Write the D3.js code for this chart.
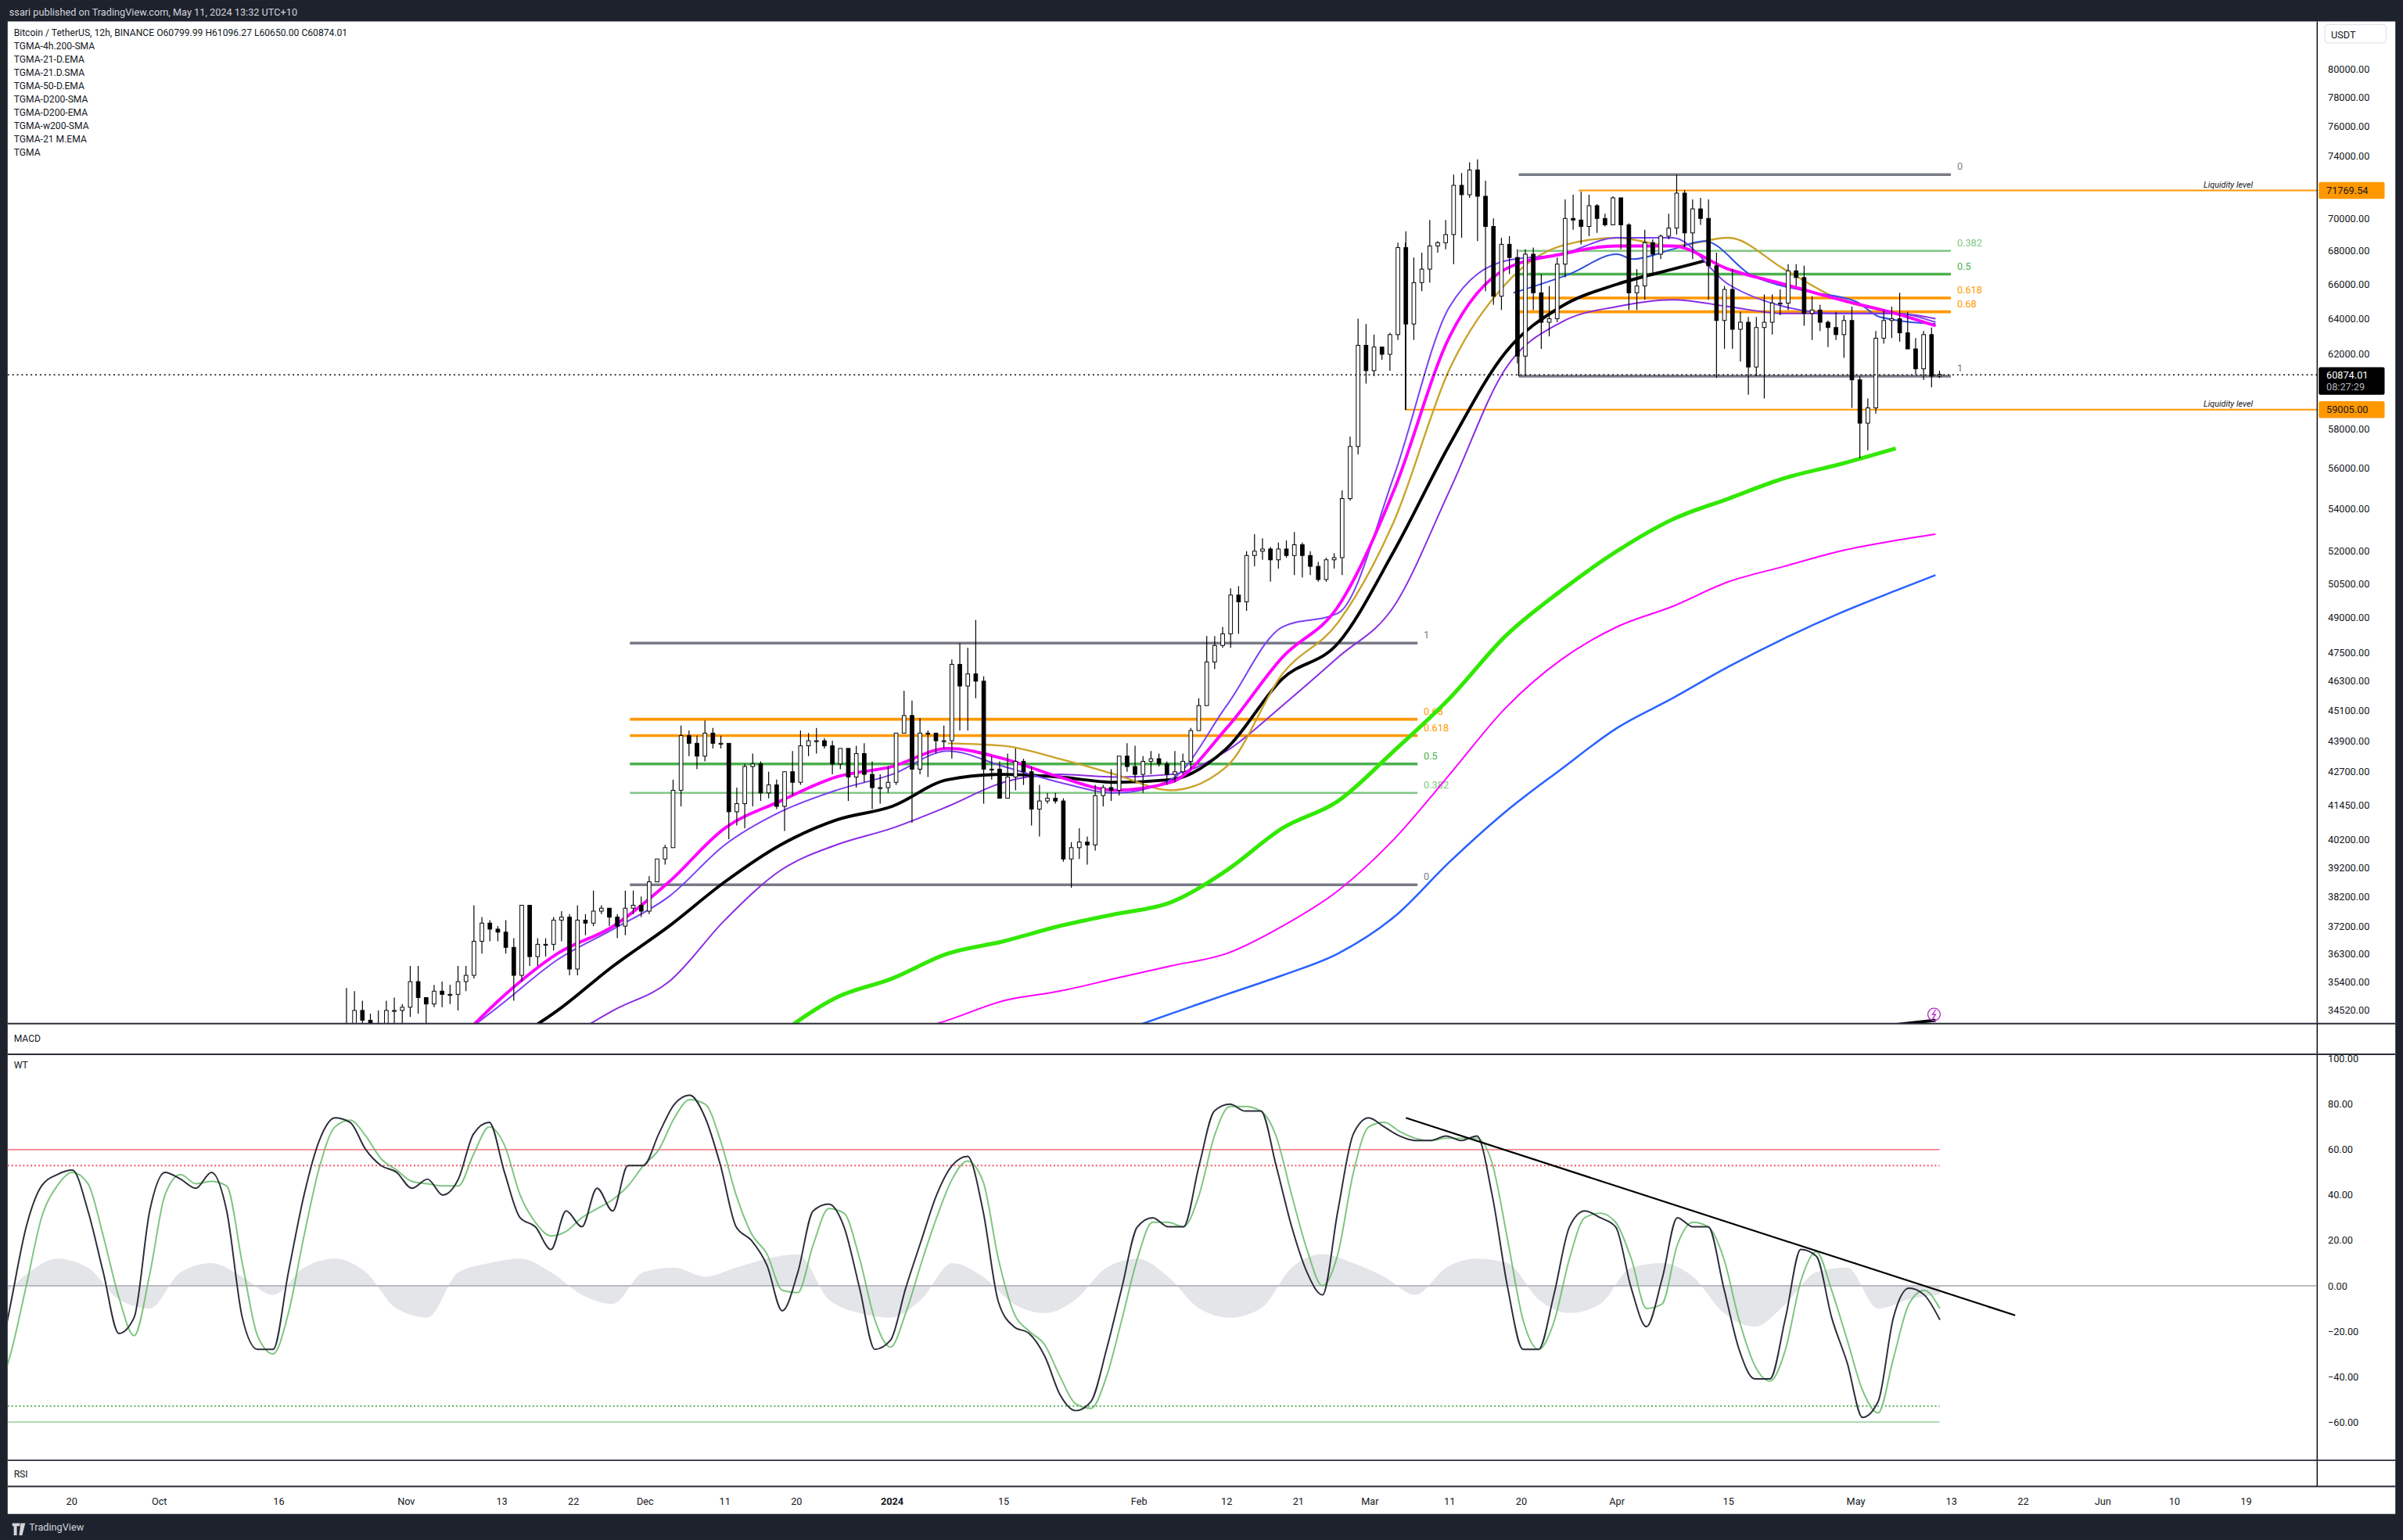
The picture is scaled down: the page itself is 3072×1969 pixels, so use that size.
<!DOCTYPE html>
<html><head><meta charset="utf-8">
<script src="https://cdn.jsdelivr.net/npm/d3@7"></script>
<style>body{margin:0;background:#fff}svg{display:block}text{font-family:Roboto,"Noto Sans",sans-serif}</style>
</head><body>
<script>
// daily candles, [open, high, low, close] in thousands
const octCandles = [[30.0,34.0,29.9,33.1],[33.1,35.2,32.9,33.9],[33.9,35.1,33.7,34.5],[34.5,34.8,33.9,34.2],[34.2,34.4,33.6,33.9],[33.9,34.5,33.9,34.1],[34.1,34.8,33.9,34.5],[34.5,34.9,34.1,34.5],[34.5,34.7,34.1,34.6]];
const novCandles = [[34.6,35.9,34.3,35.4],[35.4,35.9,34.4,34.9],[34.9,34.9,34.1,34.7],[34.7,35.3,34.6,35.1],[35.1,35.4,34.6,35.0],[35.0,35.3,34.7,35.0],[35.0,35.9,34.5,35.4],[35.4,35.9,35.1,35.6],[35.6,37.9,35.5,36.7],[36.7,37.5,36.3,37.3],[37.3,37.4,36.7,37.1],[37.1,37.2,36.7,37.0],[37.0,37.4,36.3,36.5],[36.5,36.8,34.8,35.6],[35.6,37.9,35.4,37.9],[37.9,37.9,35.9,36.2],[36.2,36.8,35.9,36.6],[36.6,36.8,36.2,36.6],[36.6,37.5,36.4,37.4],[37.4,37.7,36.7,37.5],[37.5,37.6,35.6,35.8],[35.8,37.9,35.6,37.4],[37.4,37.6,36.9,37.3],[37.3,38.4,37.2,37.7],[37.7,37.9,37.6,37.8],[37.8,37.8,37.2,37.5],[37.5,37.6,36.8,37.2],[37.2,38.4,36.9,37.8],[37.8,38.4,37.6,37.9],[37.9,38.2,37.5,37.7]];
const decCandles = [[37.7,38.9,37.6,38.7],[38.7,39.5,38.7,39.5],[39.5,40.0,39.3,39.9],[39.9,42.4,39.9,42.0],[42.0,44.5,41.4,44.1],[44.1,44.3,43.3,43.8],[43.8,44.1,42.8,43.3],[43.3,44.7,43.1,44.2],[44.2,44.4,43.6,43.8],[43.8,44.1,43.6,43.8],[43.8,43.8,40.2,41.2],[41.2,42.1,40.7,41.5],[41.5,43.0,40.6,42.9],[42.9,43.4,41.4,43.0],[43.0,43.1,41.6,41.9],[41.9,42.7,41.7,42.2],[42.2,42.4,41.3,41.4],[41.4,42.7,40.5,42.7],[42.7,43.5,41.8,42.3],[42.3,44.3,42.2,43.7],[43.7,44.2,43.3,43.9],[43.9,44.4,43.4,43.9],[43.9,44.0,43.6,43.7],[43.7,43.9,42.6,43.0],[43.0,43.6,42.8,43.6],[43.6,43.6,41.6,42.5],[42.5,43.7,42.1,43.4],[43.4,43.8,42.3,42.6],[42.6,43.1,41.3,42.1],[42.1,42.6,41.5,42.1],[42.1,42.9,41.9,42.3]];
const janCandles = [[42.3,44.2,42.2,44.2],[44.2,45.9,44.2,44.9],[44.9,45.5,40.8,42.8],[42.8,44.8,42.6,44.2],[44.2,44.3,42.5,44.2],[44.2,44.2,43.4,43.9],[43.9,44.5,43.6,43.9],[43.9,47.2,43.2,47.0],[47.0,47.9,44.3,46.1],[46.1,47.7,44.3,46.6],[46.6,48.9,45.6,46.3],[46.3,46.5,41.5,42.8],[42.8,43.3,42.4,42.8],[42.8,43.1,41.7,41.7],[41.7,43.4,41.7,42.5],[42.5,43.6,42.0,43.1],[43.1,43.2,42.2,42.7],[42.7,42.9,40.7,41.3],[41.3,42.2,40.3,41.6],[41.6,41.9,41.5,41.7],[41.7,41.9,41.5,41.6],[41.6,41.7,39.4,39.5],[39.5,40.1,38.5,39.9],[39.9,40.6,39.5,40.1],[40.1,40.3,39.3,40.0],[40.0,42.2,39.8,41.8],[41.8,42.2,41.4,42.1],[42.1,42.8,41.6,42.0],[42.0,43.3,41.8,43.3],[43.3,43.8,42.7,42.9],[42.9,43.7,42.3,42.6]];
const febCandles = [[42.6,43.3,41.9,43.1],[43.1,43.5,42.6,43.2],[43.2,43.4,42.9,43.0],[43.0,43.1,42.2,42.6],[42.6,43.5,42.3,42.7],[42.7,43.4,42.6,43.1],[43.1,44.4,42.8,44.3],[44.3,45.6,44.3,45.3],[45.3,48.2,45.3,47.1],[47.1,48.2,46.8,47.8],[47.8,48.6,47.7,48.3],[48.3,50.3,47.7,50.0],[50.0,50.4,48.3,49.7],[49.7,52.0,49.3,51.8],[51.8,52.8,51.3,52.0],[52.0,52.6,51.6,52.1],[52.1,52.2,50.6,51.6],[51.6,52.4,51.2,52.1],[52.1,52.5,51.7,51.8],[51.8,52.9,50.9,52.3],[52.3,52.4,50.8,51.8],[51.8,52.0,50.9,51.3],[51.3,51.5,50.6,50.7],[50.7,51.7,50.6,51.6],[51.6,51.9,51.2,51.7],[51.7,54.9,50.9,54.5],[54.5,57.6,54.4,57.1],[57.1,64.0,56.7,62.5],[62.5,63.7,60.4,61.1]];
const marCandles = [[61.1,63.1,60.8,62.4],[62.4,62.4,61.7,62.0],[62.0,63.2,61.1,63.1],[63.1,68.5,62.8,68.2],[68.2,69.2,59.0,63.7],[63.7,67.6,62.8,66.1],[66.1,67.9,65.6,66.9],[66.9,69.9,66.1,68.3],[68.3,68.6,67.9,68.5],[68.5,69.9,68.1,69.0],[69.0,72.8,67.2,72.1],[72.1,72.9,68.8,71.5],[71.5,73.6,71.3,73.1],[73.1,73.8,68.6,71.4],[71.4,72.4,65.6,69.5],[69.5,70.0,64.8,65.3],[65.3,68.8,64.5,68.4],[68.4,68.9,66.6,67.6],[67.6,68.1,61.5,61.9],[61.9,68.1,60.8,67.8],[67.8,68.2,64.5,65.5],[65.5,66.6,62.3,63.8],[63.8,65.9,63.0,64.0],[64.0,67.6,63.8,67.2],[67.2,71.2,66.4,70.0],[70.0,71.5,69.3,69.9],[69.9,71.7,68.4,69.5],[69.5,71.5,68.9,70.8],[70.8,70.9,69.1,70.0],[70.0,70.3,69.5,69.6],[69.6,71.4,69.6,71.3]];
const aprCandles = [[71.3,71.3,68.1,69.6],[69.6,69.7,64.5,65.5],[65.5,66.9,64.5,65.9],[65.9,69.3,65.1,68.5],[68.5,68.7,66.5,67.8],[67.8,69.0,67.5,68.9],[68.9,70.3,68.7,69.4],[69.4,72.8,69.0,71.6],[71.6,71.8,68.2,69.1],[69.1,71.2,67.5,70.6],[70.6,71.3,69.6,70.0],[70.0,71.2,65.1,67.1],[67.1,67.9,60.7,63.9],[63.9,65.9,62.3,65.7],[65.7,66.9,62.3,63.4],[63.4,64.4,61.6,63.8],[63.8,64.1,59.8,61.3],[61.3,64.1,60.8,63.5],[63.5,65.4,59.6,63.8],[63.8,65.4,63.1,64.9],[64.9,65.7,64.2,64.9],[64.9,67.2,64.5,66.8],[66.8,67.2,65.9,66.4],[66.4,67.1,63.6,64.3],[64.3,65.3,62.8,64.5],[64.5,64.8,63.3,63.8],[63.8,63.9,62.4,63.5],[63.5,64.4,62.8,63.1],[63.1,64.2,61.8,63.9],[63.9,64.7,59.1,60.6]];
const mayCandles = [[60.6,60.8,56.5,58.3],[58.3,59.6,56.9,59.1],[59.1,63.3,58.8,62.9],[62.9,64.5,62.6,63.9],[63.9,64.7,62.9,64.0],[64.0,65.5,62.7,63.2],[63.2,64.4,62.3,62.3],[62.3,62.9,60.9,61.2],[61.2,63.3,60.6,63.1],[63.1,63.5,60.2,60.8],[60.8,61.1,60.7,60.9]];
const candleMonths = [["2023-10-23",octCandles],["2023-11-01",novCandles],["2023-12-01",decCandles],["2024-01-01",janCandles],["2024-02-01",febCandles],["2024-03-01",marCandles],["2024-04-01",aprCandles],["2024-05-01",mayCandles]];

// moving averages [date, price in thousands]
const sma4h200 = [["2024-03-19",65.5],["2024-03-26",66.6],["2024-04-01",67.8],["2024-04-03",67.5],["2024-04-08",68.1],["2024-04-12",68.6],["2024-04-18",66.5],["2024-04-21",66.0],["2024-04-26",65.5],["2024-05-01",65.0],["2024-05-04",64.1],["2024-05-11",63.7]];
const ema21D = [["2023-11-06",33.2],["2023-11-13",34.9],["2023-11-20",36.3],["2023-11-27",37.2],["2023-12-04",38.7],["2023-12-11",40.6],["2023-12-18",41.6],["2023-12-25",42.5],["2024-01-01",42.9],["2024-01-08",43.6],["2024-01-15",43.2],["2024-01-22",42.5],["2024-01-29",42.0],["2024-02-05",42.3],["2024-02-12",44.4],["2024-02-19",47.3],["2024-02-26",49.5],["2024-03-04",54.9],["2024-03-11",63.0],["2024-03-18",66.9],["2024-03-25",67.8],["2024-04-01",68.3],["2024-04-08",68.3],["2024-04-15",66.9],["2024-04-22",66.0],["2024-04-29",65.1],["2024-05-06",64.3],["2024-05-11",63.6]];
const sma21D = [["2023-11-06",33.4],["2023-11-13",34.7],["2023-11-20",36.1],["2023-11-27",37.1],["2023-12-04",38.2],["2023-12-11",40.0],["2023-12-18",41.2],["2023-12-25",42.0],["2024-01-01",42.6],["2024-01-08",43.5],["2024-01-15",42.9],["2024-01-22",42.3],["2024-01-29",41.9],["2024-02-05",42.4],["2024-02-12",45.3],["2024-02-19",48.6],["2024-02-26",49.2],["2024-03-04",55.6],["2024-03-11",64.7],["2024-03-18",67.4],["2024-03-25",67.8],["2024-04-01",68.8],["2024-04-08",68.8],["2024-04-15",66.0],["2024-04-22",64.7],["2024-04-29",64.3],["2024-05-06",64.3],["2024-05-11",63.8]];
const ema50D = [["2023-11-13",33.4],["2023-11-20",34.5],["2023-11-27",35.9],["2023-12-04",37.2],["2023-12-11",38.7],["2023-12-18",40.0],["2023-12-25",40.9],["2024-01-01",41.4],["2024-01-08",42.4],["2024-01-15",42.6],["2024-01-22",42.5],["2024-01-29",42.3],["2024-02-05",42.4],["2024-02-12",43.6],["2024-02-19",46.4],["2024-02-26",47.9],["2024-03-04",52.0],["2024-03-11",57.2],["2024-03-18",62.1],["2024-03-25",64.7],["2024-04-01",66.0],["2024-04-08",66.9],["2024-04-12",67.4]];
const sma50D = [["2023-11-20",33.5],["2023-11-27",34.5],["2023-12-04",35.4],["2023-12-11",37.4],["2023-12-18",39.1],["2023-12-25",40.0],["2024-01-01",40.6],["2024-01-08",41.4],["2024-01-15",42.3],["2024-01-22",42.6],["2024-01-29",42.5],["2024-02-05",42.6],["2024-02-12",43.5],["2024-02-19",45.3],["2024-02-26",47.3],["2024-03-04",49.5],["2024-03-11",54.9],["2024-03-18",61.2],["2024-03-25",63.8],["2024-04-01",64.7],["2024-04-08",65.1],["2024-04-15",64.7],["2024-04-22",64.3],["2024-04-29",64.3],["2024-05-06",64.3],["2024-05-11",64.0]];
const sma21Dolive = [["2024-01-08",43.8],["2024-01-15",43.7],["2024-01-22",43.2],["2024-01-29",42.6],["2024-02-05",42.0],["2024-02-12",42.9],["2024-02-19",46.6],["2024-02-26",48.8],["2024-03-04",53.4],["2024-03-11",61.2],["2024-03-18",66.0],["2024-03-25",68.3],["2024-04-01",68.8],["2024-04-08",68.3],["2024-04-15",68.8],["2024-04-22",66.9],["2024-04-29",65.1],["2024-05-06",64.3],["2024-05-11",63.6]];
const smaD200 = [["2023-12-18",33.8],["2023-12-25",34.9],["2024-01-01",35.5],["2024-01-08",36.3],["2024-01-15",36.7],["2024-01-22",37.2],["2024-01-29",37.6],["2024-02-05",38.0],["2024-02-12",39.1],["2024-02-19",40.6],["2024-02-26",41.6],["2024-03-04",43.5],["2024-03-11",45.6],["2024-03-18",48.2],["2024-03-25",50.2],["2024-04-01",52.0],["2024-04-08",53.5],["2024-04-15",54.5],["2024-04-22",55.5],["2024-04-29",56.2],["2024-05-06",57.0]];
const emaD200 = [["2024-01-04",33.9],["2024-01-08",34.2],["2024-01-15",34.8],["2024-01-22",35.1],["2024-01-29",35.5],["2024-02-05",35.9],["2024-02-12",36.3],["2024-02-19",37.2],["2024-02-26",38.4],["2024-03-04",40.2],["2024-03-11",42.6],["2024-03-18",45.2],["2024-03-25",47.2],["2024-04-01",48.6],["2024-04-08",49.5],["2024-04-15",50.6],["2024-04-22",51.3],["2024-04-29",52.0],["2024-05-06",52.5],["2024-05-11",52.8]];
const smaW200 = [["2024-01-29",33.8],["2024-02-05",34.4],["2024-02-12",35.0],["2024-02-19",35.6],["2024-02-26",36.3],["2024-03-04",37.5],["2024-03-11",39.4],["2024-03-18",41.2],["2024-03-25",42.8],["2024-04-01",44.4],["2024-04-08",45.6],["2024-04-15",46.9],["2024-04-22",48.1],["2024-04-29",49.2],["2024-05-06",50.2],["2024-05-11",50.9]];
const ema21M = [["2024-04-26",33.8],["2024-05-11",34.2]];

// fib drawings [level, price]
const fibA = [[1,47.9],[0.68,44.75],[0.618,44.1],[0.5,43.0],[0.382,41.9],[0,38.6]];
const fibB = [[0,72.8],[0.382,68.0],[0.5,66.6],[0.618,65.2],[0.68,64.4],[1,60.8]];
const liquidity = [71769.54, 59005.00];
const lastPrice = 60874.01;

const priceTicks = [80000,78000,76000,74000,70000,68000,66000,64000,62000,58000,56000,54000,52000,50500,49000,47500,46300,45100,43900,42700,41450,40200,39200,38200,37200,36300,35400,34520];
const wtTicks = [100,80,60,40,20,0,-20,-40,-60];

// WaveTrend, sampled every 46.5 h starting 2023-09-10 10:00
const wt1 = [-42,-8,26,44,49,51,33,6,-21,-14,33,50,47,43,50,33,-14,-28,-28,6,40,64,74,72,60,53,50,43,47,40,47,67,72,50,30,26,16,33,26,43,33,53,53,67,80,84,74,53,26,20,9,-11,6,33,36,26,-1,-28,-24,-1,20,40,53,57,33,-7,-18,-21,-31,-48,-55,-51,-28,-1,26,30,26,26,53,77,80,77,77,53,26,6,-4,33,67,74,70,66,64,64,66,64,66,40,-1,-28,-28,-4,26,33,30,26,-1,-18,3,30,26,26,-1,-28,-41,-41,-14,16,13,-14,-34,-58,-51,-14,-1,-4,-15];
const wt2 = [-50,-30,0,30,44,50,45,22,-5,-22,5,40,49,45,46,44,10,-22,-30,-12,22,52,70,73,66,56,51,46,45,44,44,58,70,62,40,28,22,24,30,34,38,44,53,60,74,82,80,64,40,23,14,-2,-3,18,34,32,12,-15,-27,-12,10,30,47,55,46,12,-12,-20,-26,-40,-52,-54,-40,-15,12,28,28,26,40,66,79,79,77,66,40,16,0,14,50,70,72,68,65,64,65,65,65,54,20,-15,-28,-16,12,30,32,28,12,-10,-8,18,28,26,12,-15,-35,-42,-28,2,15,-2,-24,-46,-56,-32,-8,-2,-10];
// histogram sampled every 93 h
const wtHist = [-8,5,12,8,-6,-10,6,10,4,-4,8,12,6,-10,-14,6,10,12,6,-4,-8,6,8,4,8,12,14,-6,-12,-14,-6,10,4,-8,-12,-6,8,12,4,-10,-14,-10,8,14,10,4,-4,8,12,10,-6,-12,-8,8,10,4,-12,-18,-8,6,8,-10,-6,-4];
const wtTrend = [["2024-03-05T12:00",74],["2024-05-21",-13]];

const timeTicks = [["2023-09-20","20"],["2023-10-01","Oct"],["2023-10-16","16"],["2023-11-01","Nov"],["2023-11-13","13"],["2023-11-22","22"],["2023-12-01","Dec"],["2023-12-11","11"],["2023-12-20","20"],["2024-01-01","2024"],["2024-01-15","15"],["2024-02-01","Feb"],["2024-02-12","12"],["2024-02-21","21"],["2024-03-01","Mar"],["2024-03-11","11"],["2024-03-20","20"],["2024-04-01","Apr"],["2024-04-15","15"],["2024-05-01","May"],["2024-05-13","13"],["2024-05-22","22"],["2024-06-01","Jun"],["2024-06-10","10"],["2024-06-19","19"]];
const legend = ["Bitcoin / TetherUS, 12h, BINANCE  O60799.99  H61096.27  L60650.00  C60874.01","TGMA-4h.200-SMA","TGMA-21-D.EMA","TGMA-21.D.SMA","TGMA-50-D.EMA","TGMA-D200-SMA","TGMA-D200-EMA","TGMA-w200-SMA","TGMA-21 M.EMA","TGMA"];

const W = 1568, H = 1005, L = 5, R = 1512;
const parse = s => new Date(s.length > 10 ? s : s + "T00:00");
const svg = d3.select("body").append("svg").attr("width", 3072).attr("height", 1969).attr("viewBox", `0 0 ${W} ${H}`);

const x = d3.scaleTime().domain([parse("2023-12-01"), parse("2024-05-01")]).range([421, 1211]);
const y = d3.scaleLog().domain([34520, 80000]).range([659, 45]);
const yw = d3.scaleLinear().domain([-60, 100]).range([928, 691]);

// frame
svg.append("rect").attr("width", W).attr("height", H).attr("fill", "#1e222d");
svg.append("rect").attr("x", L).attr("y", 14).attr("width", 1558).attr("height", 974).attr("fill", "#fff");
svg.append("text").attr("x", 6).attr("y", 10).attr("fill", "#d1d4dc").attr("font-size", 6.5).text("ssari published on TradingView.com, May 11, 2024 13:32 UTC+10");
svg.append("text").attr("x", 19).attr("y", 999).attr("fill", "#d1d4dc").attr("font-size", 6.5).text("TradingView");
svg.append("path").attr("d", "M8,994h5v2h-2v6h-2v-6h-1z M13.5,994h3l-2,8h-2z").attr("fill", "#d1d4dc");

const defs = svg.append("defs");
defs.append("clipPath").attr("id", "cp").append("rect").attr("x", L).attr("y", 14).attr("width", R - L).attr("height", 654);
defs.append("clipPath").attr("id", "cw").append("rect").attr("x", L).attr("y", 688).attr("width", R - L).attr("height", 265);

const pp = svg.append("g").attr("clip-path", "url(#cp)");

// fib drawings
const fibColor = {0: "#787b86", 1: "#787b86", 0.382: "#81c784", 0.5: "#4caf50", 0.618: "#ff9800", 0.68: "#ff9800"};
function drawFib(levels, x0, x1) {
  levels.forEach(([lv, p]) => {
    pp.append("line").attr("x1", x0).attr("x2", x1).attr("y1", y(p * 1000)).attr("y2", y(p * 1000))
      .attr("stroke", fibColor[lv]).attr("stroke-width", lv === 0.382 ? 1.3 : 1.8);
    pp.append("text").attr("x", x1 + 4).attr("y", y(p * 1000) - 3).attr("font-size", 6.5)
      .attr("fill", fibColor[lv]).text(lv);
  });
}
drawFib(fibA, 411, 925);
drawFib(fibB, 991, 1273);
pp.append("line").attr("x1", 991).attr("x2", 991).attr("y1", y(64400)).attr("y2", y(60800)).attr("stroke", "#000").attr("stroke-width", 0.8);

// liquidity
liquidity.forEach((p, i) => {
  const x0 = i === 0 ? 1030 : 917;
  pp.append("line").attr("x1", x0).attr("x2", R).attr("y1", y(p)).attr("y2", y(p)).attr("stroke", "#ff9800").attr("stroke-width", 1);
  pp.append("text").attr("x", 1470).attr("y", y(p) - 2).attr("font-size", 5.5).attr("font-style", "italic").attr("text-anchor", "end").attr("fill", "#131722").text("Liquidity level");
});
pp.append("line").attr("x1", 917).attr("x2", 917).attr("y1", y(68500)).attr("y2", y(59005)).attr("stroke", "#000").attr("stroke-width", 0.6);

// moving averages
const line = d3.line().x(d => x(parse(d[0]))).y(d => y(d[1] * 1000)).curve(d3.curveMonotoneX);
[[smaW200, "#2962ff", 1.3], [emaD200, "#ff00ff", 1], [smaD200, "#33e800", 2.6], [sma50D, "#8a2be2", 1], [ema50D, "#000", 2], [sma21Dolive, "#c9a227", 1.2], [sma4h200, "#2f4fe0", 1], [sma21D, "#7b3ff2", 1], [ema21D, "#ff00ff", 2], [ema21M, "#000", 2]]
  .forEach(([data, c, w]) => pp.append("path").attr("d", line(data)).attr("fill", "none").attr("stroke", c).attr("stroke-width", w));

// candles
const candles = [];
candleMonths.forEach(([start, rows]) => rows.forEach((r, i) => candles.push({t: d3.timeDay.offset(parse(start), i), o: r[0] * 1000, h: r[1] * 1000, l: r[2] * 1000, c: r[3] * 1000})));
const cg = pp.append("g");
candles.forEach(d => {
  const cx = x(d3.timeHour.offset(d.t, 12));
  cg.append("line").attr("x1", cx).attr("x2", cx).attr("y1", y(d.h)).attr("y2", y(d.l)).attr("stroke", "#000").attr("stroke-width", 0.6);
  const top = y(Math.max(d.o, d.c)), bot = y(Math.min(d.o, d.c));
  cg.append("rect").attr("x", cx - 1.2).attr("width", 2.4).attr("y", top).attr("height", Math.max(0.6, bot - top))
    .attr("fill", d.c >= d.o ? "#fff" : "#000").attr("stroke", "#000").attr("stroke-width", 0.5);
});

// last price line
pp.append("line").attr("x1", L).attr("x2", R).attr("y1", y(lastPrice)).attr("y2", y(lastPrice)).attr("stroke", "#000").attr("stroke-width", 0.8).attr("stroke-dasharray", "1,2");
pp.append("path").attr("d", "M1262,658 a4,4 0 1,0 0.01,0 M1263,659 l-2,3h2l-2,3").attr("fill", "none").attr("stroke", "#b42ec9").attr("stroke-width", 0.7);

// price axis
svg.append("line").attr("x1", R).attr("x2", R).attr("y1", 14).attr("y2", 970).attr("stroke", "#000").attr("stroke-width", 0.7);
svg.append("rect").attr("x", 1517).attr("y", 16).attr("width", 40).attr("height", 12).attr("rx", 2).attr("fill", "#fff").attr("stroke", "#e0e3eb").attr("stroke-width", 0.6);
svg.append("text").attr("x", 1521).attr("y", 25).attr("font-size", 6.5).attr("fill", "#131722").text("USDT");
const ay = svg.append("g");
priceTicks.forEach(t => ay.append("text").attr("x", 1519).attr("y", y(t) + 2.3).attr("font-size", 6.5).attr("fill", "#131722").text(d3.format(".2f")(t)));
liquidity.forEach(p => {
  ay.append("rect").attr("x", 1513).attr("y", y(p) - 5.5).attr("width", 43).attr("height", 11).attr("rx", 1).attr("fill", "#ff9800");
  ay.append("text").attr("x", 1518).attr("y", y(p) + 2.3).attr("font-size", 6.5).attr("fill", "#131722").text(d3.format(".2f")(p));
});
ay.append("rect").attr("x", 1513).attr("y", y(lastPrice) - 5).attr("width", 43).attr("height", 18).attr("rx", 1).attr("fill", "#000");
ay.append("text").attr("x", 1518).attr("y", y(lastPrice) + 2.5).attr("font-size", 6.5).attr("fill", "#fff").text(d3.format(".2f")(lastPrice));
ay.append("text").attr("x", 1518).attr("y", y(lastPrice) + 10).attr("font-size", 6.5).attr("fill", "#b2b5be").text("08:27:29");

// legend
legend.forEach((s, i) => svg.append("text").attr("x", 9).attr("y", 23.5 + i * 8.65).attr("font-size", 6.2).attr("fill", "#131722").text(s));

// pane separators
[668, 688, 953, 970].forEach(v => svg.append("line").attr("x1", L).attr("x2", 1563).attr("y1", v).attr("y2", v).attr("stroke", "#2a2e39").attr("stroke-width", 1));
[["MACD", 680], ["WT", 697], ["RSI", 964]].forEach(([s, v]) => svg.append("text").attr("x", 9).attr("y", v).attr("font-size", 6.2).attr("fill", "#131722").text(s));

// WT pane
const wp = svg.append("g").attr("clip-path", "url(#cw)");
const wStart = parse("2023-09-10T10:00");
const wx = (i, h) => x(d3.timeHour.offset(wStart, i * h));
const xEnd = x(parse("2024-05-11T12:00"));
[[60, "#f7525f", null, 0.8], [53, "#f7525f", "1,1.5", 1], [-53, "#4caf50", "1,1.5", 1], [-60, "#4caf50", null, 0.6]].forEach(([v, c, da, w]) =>
  wp.append("line").attr("x1", L).attr("x2", xEnd).attr("y1", yw(v)).attr("y2", yw(v)).attr("stroke", c).attr("stroke-width", w).attr("stroke-dasharray", da).attr("opacity", da ? 1 : 0.7));
wp.append("line").attr("x1", L).attr("x2", R).attr("y1", yw(0)).attr("y2", yw(0)).attr("stroke", "#787b86").attr("stroke-width", 0.6);
wp.append("path").attr("d", d3.area().x((d, i) => wx(i, 93)).y0(yw(0)).y1(d => yw(d)).curve(d3.curveMonotoneX)(wtHist)).attr("fill", "#b2b5be").attr("opacity", 0.35);
wp.append("path").attr("d", d3.line().x((d, i) => wx(i, 46.5)).y(d => yw(d)).curve(d3.curveMonotoneX)(wt2)).attr("fill", "none").attr("stroke", "#66bb6a").attr("stroke-width", 1).attr("opacity", 0.85);
wp.append("path").attr("d", d3.line().x((d, i) => wx(i, 46.5)).y(d => yw(d)).curve(d3.curveMonotoneX)(wt1)).attr("fill", "none").attr("stroke", "#2a2e39").attr("stroke-width", 1);
wp.append("line").attr("x1", x(parse(wtTrend[0][0]))).attr("y1", yw(wtTrend[0][1])).attr("x2", x(parse(wtTrend[1][0]))).attr("y2", yw(wtTrend[1][1])).attr("stroke", "#000").attr("stroke-width", 1.1);
wtTicks.forEach(t => svg.append("text").attr("x", 1519).attr("y", yw(t) + 2.3).attr("font-size", 6.5).attr("fill", "#131722").text((t < 0 ? "\u2212" : "") + Math.abs(t).toFixed(2)));

// time axis
timeTicks.forEach(([d, s]) => svg.append("text").attr("x", x(parse(d))).attr("y", 982).attr("text-anchor", "middle").attr("font-size", 6.5)
  .attr("font-weight", s === "2024" ? "bold" : null).attr("fill", "#131722").text(s));
</script>
</body></html>
